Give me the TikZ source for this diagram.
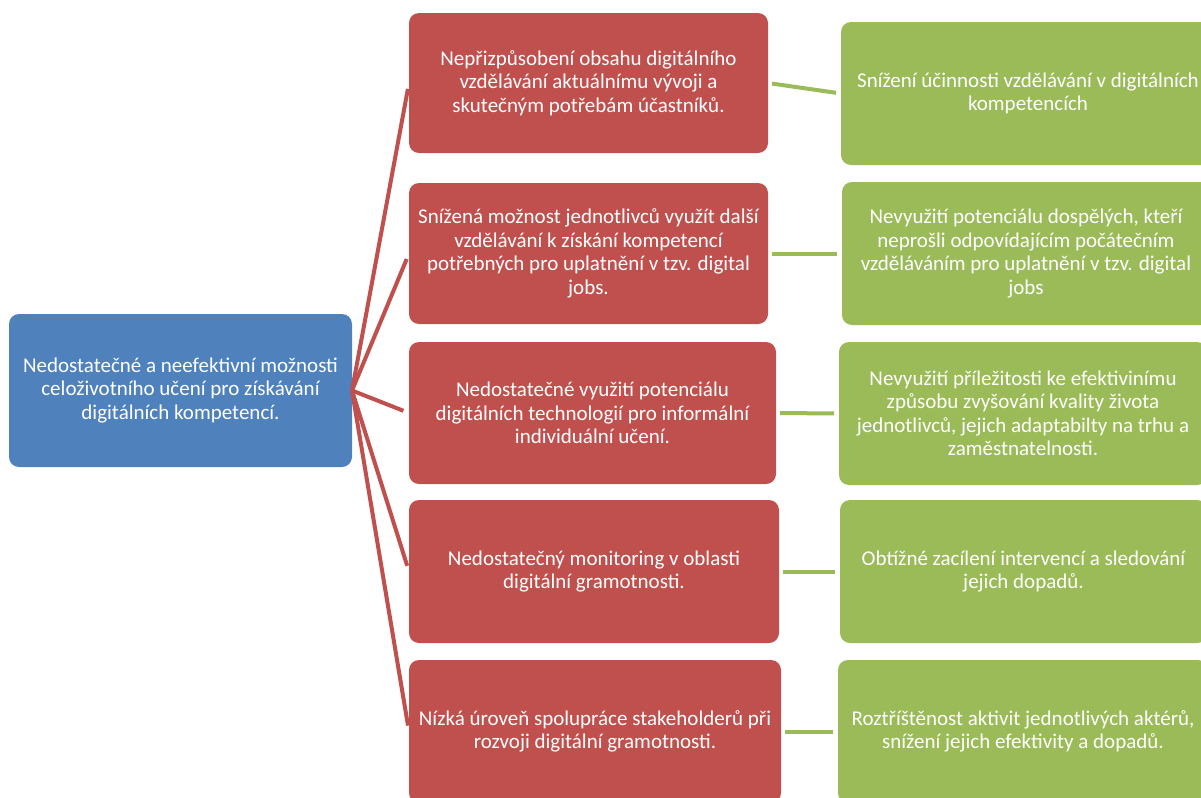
\documentclass[tikz,border=0pt]{standalone}
\usepackage{fontspec}
\setmainfont{Carlito}
\usetikzlibrary{calc}
\definecolor{probblue}{HTML}{4F81BD}
\definecolor{causered}{HTML}{C0504D}
\definecolor{effectgreen}{HTML}{9BBB59}

\begin{document}
\begin{tikzpicture}[x=0.5pt, y=-0.5pt, outer sep=0pt, inner sep=0pt,
  box/.style={rounded corners=5pt, align=center, text=white, font=\fontsize{10.5}{11.75}\selectfont},
  problem/.style={box, fill=probblue},
  cause/.style={box, fill=causered, minimum width=179.5pt, minimum height=70.5pt},
  effect/.style={box, fill=effectgreen, minimum height=71.5pt},
  redline/.style={causered, line width=2pt, shorten >=3pt},
  greenline/.style={effectgreen, line width=2pt, shorten <=2pt, shorten >=2.5pt}]

\useasboundingbox (0,0) rectangle (1201,798);

\node [problem, minimum width=171.5pt, minimum height=76.5pt] at (180.5, 390.5) (PROBLEM) {Nedostatečné a neefektivní možnosti\\celoživotního učení pro získávání\\digitálních kompetencí.};

\node [cause, minimum height=70pt] at (588.5, 83) (CAUSE1) {Nepřizpůsobení obsahu digitálního\\vzdělávání aktuálnímu vývoji a\\skutečným potřebám účastníků.};
\node [cause] at (588.5, 253.5) (CAUSE2) {Snížená možnost jednotlivců využít další\\vzdělávání k získání kompetencí\\potřebných pro uplatnění v tzv. digital\\jobs.};
\node [cause, minimum width=183.5pt, minimum height=71pt] at (592.5, 413) (CAUSE3) {Nedostatečné využití potenciálu\\digitálních technologií pro informální\\individuální učení.};
\node [cause, minimum width=185pt, minimum height=71.5pt] at (594, 571.5) (CAUSE4) {Nedostatečný monitoring v oblasti\\digitální gramotnosti.};
\node [cause, minimum width=186pt, minimum height=71.5pt] at (595, 731.5) (CAUSE5) {Nízká úroveň spolupráce stakeholderů při\\rozvoji digitální gramotnosti.};

\node [effect, minimum width=187pt] at (1028, 93.5) (EFFECT1) {Snížení účinnosti vzdělávání v digitálních\\kompetencích};
\node [effect, minimum width=184pt] at (1026, 253.5) (EFFECT2) {Nevyužití potenciálu dospělých, kteří\\neprošli odpovídajícím počátečním\\vzděláváním pro uplatnění v tzv. digital\\jobs};
\node [effect, minimum width=184pt] at (1023, 413.5) (EFFECT3) {Nevyužití příležitosti ke efektivinímu\\způsobu zvyšování kvality života\\jednotlivců, jejich adaptabilty na trhu a\\zaměstnatelnosti.};
\node [effect, minimum width=183.5pt] at (1023.5, 571.5) (EFFECT4) {Obtížné zacílení intervencí a sledování\\jejich dopadů.};
\node [effect, minimum width=185pt] at (1023, 731.5) (EFFECT5) {Roztříštěnost aktivit jednotlivých aktérů,\\snížení jejich efektivity a dopadů.};

%\draw [redline] (PROBLEM) -- (CAUSE3);
\draw [redline] (PROBLEM.east) -- (CAUSE1.west);
\draw [redline] (PROBLEM.east) -- (CAUSE2.west);
\draw [redline] (PROBLEM.east) -- (CAUSE3.west);
\draw [redline] (PROBLEM.east) -- (CAUSE4.west);
\draw [redline] (PROBLEM.east) -- (CAUSE5.west);

\draw [greenline] (CAUSE1.east) -- (EFFECT1.west);
\draw [greenline] (CAUSE2.east) -- (EFFECT2.west);
\draw [greenline] (CAUSE3.east) -- (EFFECT3.west);
\draw [greenline] (CAUSE4.east) -- (EFFECT4.west);
\draw [greenline] (CAUSE5.east) -- (EFFECT5.west);

\end{tikzpicture}
\end{document}
